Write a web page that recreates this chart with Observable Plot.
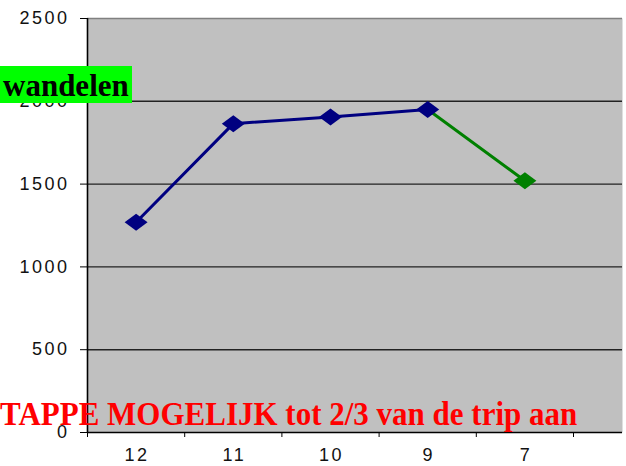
<!DOCTYPE html>
<html>
<head>
<meta charset="utf-8">
<script src="https://cdn.jsdelivr.net/npm/d3@7"></script>
<script src="https://cdn.jsdelivr.net/npm/@observablehq/plot@0.6"></script>
<style>
  html, body { margin: 0; padding: 0; background: #fff; overflow: hidden; }
  #wrap { position: relative; width: 626px; height: 466px; overflow: hidden; }
  #wrap svg { position: absolute; left: 0; top: 0; }
  .note { position: absolute; font-family: "Liberation Serif", "Times New Roman", serif; font-weight: bold; line-height: 1; white-space: nowrap; }
  #green { left: 0; top: 66px; height: 37px; width: 132px; background: #00ff00; color: #000; box-sizing: border-box; padding: 4px 0 0 3px; font-size: 31px; }
  #red { left: 0; top: 399px; color: #ff0000; font-size: 31px; transform: scaleY(1.1); transform-origin: 0 26px; }
</style>
</head>
<body>
<div id="wrap">
  <div id="chart"></div>
  <div class="note" id="green">wandelen</div>
  <div class="note" id="red">TAPPE MOGELIJK tot 2/3 van de trip aan</div>
</div>
<script>
const categories = ["12", "11", "10", "9", "7"];
const values = [1270, 1865, 1905, 1950, 1520];
const segmentColors = ["#000080", "#000080", "#000080", "#000080", "#008000"];
const yTicks = [0, 500, 1000, 1500, 2000, 2500];
const slotCount = 6; // the chart has room for one more (empty) category on the right

const rows = categories.map((c, i) => ({cat: c, pos: i + 0.5, value: values[i], color: segmentColors[i]}));
// line segments: each segment takes the colour of its end point
const segs = [];
for (let i = 1; i < rows.length; i++) {
  segs.push({...rows[i - 1], seg: i, color: rows[i].color});
  segs.push({...rows[i], seg: i, color: rows[i].color});
}

// wide diamond marker
const wideDiamond = {
  draw(ctx, size) {
    const r = Math.sqrt(size / Math.PI);
    const w = r * 1.35;
    ctx.moveTo(0, -r);
    ctx.lineTo(w, 0);
    ctx.lineTo(0, r);
    ctx.lineTo(-w, 0);
    ctx.closePath();
  }
};

const W = 626, H = 466;
const plotLeft = 87, plotTop = 18, plotBottom = 432;
const slotWidth = 97.2;

const chart = Plot.plot({
  width: W,
  height: H,
  marginLeft: plotLeft,
  marginRight: W - 622,
  marginTop: plotTop,
  marginBottom: H - plotBottom,
  style: {fontFamily: "'Liberation Sans', Arial, sans-serif", fontSize: "18px", letterSpacing: "2.5px", color: "#111", background: "transparent", overflow: "visible"},
  x: {type: "linear", domain: [0, slotCount], range: [plotLeft, plotLeft + slotCount * slotWidth]},
  y: {domain: [0, 2500], range: [plotBottom, plotTop]},
  marks: [
    Plot.frame({fill: "#c0c0c0", stroke: null}),
    Plot.gridY(yTicks.filter(d => d > 0 && d < 2500), {stroke: "#222", strokeOpacity: 1, strokeWidth: 1.4}),
    Plot.ruleY([2500], {stroke: "#808080", strokeWidth: 1.6}),
    Plot.axisY({ticks: yTicks, tickSize: 7, tickPadding: 11, tickFormat: d => String(d), stroke: "#000", label: null}),
    Plot.axisX({ticks: d3.range(0, slotCount), tickSize: 5, tickFormat: () => "", stroke: "#000", label: null}),
    Plot.axisX({ticks: rows.map(r => r.pos), tickSize: 0, tickPadding: 16, dx: 1, tickFormat: d => categories[Math.floor(d)], label: null}),
    Plot.ruleX([0], {stroke: "#000", strokeWidth: 1.6}),
    Plot.ruleY([0], {stroke: "#000", strokeWidth: 1.6}),
    Plot.line(segs, {x: "pos", y: "value", z: "seg", stroke: "color", strokeWidth: 3}),
    Plot.dot(rows, {x: "pos", y: "value", symbol: wideDiamond, r: 8.5, fill: "color", stroke: null})
  ]
});
document.getElementById("chart").appendChild(chart);
</script>
</body>
</html>
